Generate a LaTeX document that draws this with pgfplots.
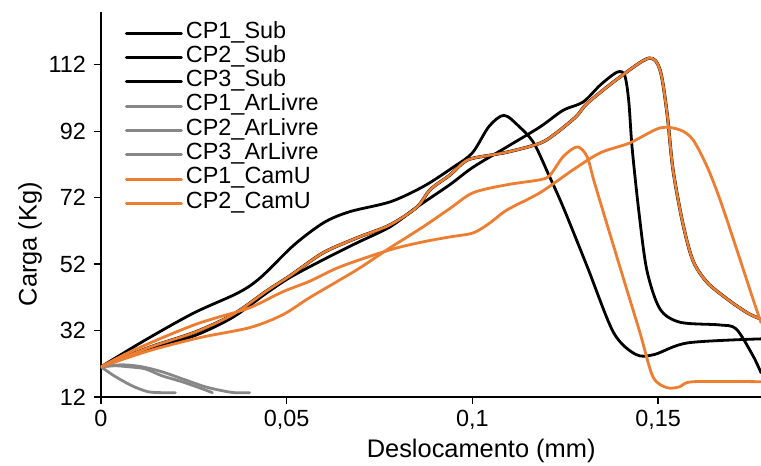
\documentclass[border=0pt]{standalone}
\usepackage{pgfplots}
\pgfplotsset{compat=1.18}
\usepackage{fontspec}
\setmainfont{Liberation Sans}
\definecolor{camU}{HTML}{ED7D31}
\definecolor{arLivre}{HTML}{878787}

\pgfplotsset{
  curve/.style={smooth, line width=2.8bp, line cap=round, line join=round},
}

\begin{document}
\begin{tikzpicture}
\begin{axis}[
  name=ax,
  scale only axis,
  width=660bp, height=385bp,
  xmin=0, xmax=0.1777,
  ymin=12, ymax=127.9,
  axis x line*=bottom, axis y line*=left,
  axis line style={line width=1.3bp, black},
  xtick={0,0.05,0.1,0.15},
  xticklabels={0,{0,05},{0,1},{0,15}},
  ytick={12,32,52,72,92,112},
  tick align=outside,
  major tick length=7bp,
  tick style={line width=1.3bp, black},
  tick label style={font=\fontsize{23.5}{26}\selectfont},
  xticklabel style={yshift=-3bp},
  yticklabel style={xshift=-4.5bp},
  /pgf/number format/assume math mode=true,
  xlabel={Deslocamento (mm)},
  ylabel={Carga (Kg)},
  label style={font=\fontsize{25.5}{28}\selectfont},
  x label style={at={(rel axis cs:0.576,-0.140)}, anchor=center},
  y label style={at={(rel axis cs:-0.1076,0.397)}, anchor=center, rotate=0},
  legend style={at={(rel axis cs:0.036,0.977)}, anchor=north west,
    draw=none, fill=none, font=\fontsize{23.5}{26}\selectfont,
    row sep=0bp, column sep=3bp, inner sep=0pt,
    nodes={inner sep=0pt, text height=17bp, text depth=7.3bp}},
  legend cell align=left,
  legend image code/.code={\draw[#1, line width=3bp, smooth=false] (0bp,0bp) -- (55bp,0bp);},
  clip=true,
]
% substrate specimens
\addplot[curve, black] coordinates {
(0,21.1) (0.012,29.2) (0.025,37.3) (0.037,43.4) (0.043,48.0) (0.052,57.8)
(0.060,64.5) (0.067,67.8) (0.078,70.8) (0.087,75.5) (0.095,81.3) (0.100,85.5)
(0.1045,93.5) (0.1085,96.8) (0.1125,93.5) (0.1165,88.5) (0.1205,79) (0.1245,69)
(0.1310,51) (0.1380,31.4) (0.1440,24.8) (0.1490,24.8) (0.1580,28.3) (0.1777,29.5)
};
\addlegendentry{CP1\_Sub}
\addplot[curve, black] coordinates {
(0,21.1) (0.0132,26.5) (0.0253,30.5) (0.0355,36) (0.0447,43.4) (0.0509,48)
(0.0598,53.3) (0.0689,58.4) (0.0778,63.2) (0.0851,69.2) (0.0939,75.9) (0.1002,81.2)
(0.1093,87.3) (0.1182,93.3) (0.1244,98.3) (0.1298,100.8) (0.1345,106) (0.1390,109.8)
(0.1410,108.8) (0.1421,101) (0.1430,87) (0.1449,67) (0.1470,50) (0.1505,38.5)
(0.1559,34.5) (0.1665,33.7) (0.1710,32.5) (0.1755,24.5) (0.1777,19.3)
};
\addlegendentry{CP2\_Sub}
\addplot[curve, black, line width=3.2bp] coordinates {
(0,21.1) (0.0132,27.0) (0.0253,31.5) (0.0355,36.8) (0.0447,44.0) (0.0509,48.5)
(0.0598,55.4) (0.0689,59.9) (0.0778,63.8) (0.0851,69.2) (0.0886,74.4) (0.0939,78.8)
(0.0975,82.5) (0.1002,83.9) (0.1093,85.7) (0.1182,88.4) (0.1225,91.4) (0.1280,96.5)
(0.1310,100.5) (0.1397,108.3) (0.1475,114.0) (0.1505,110.5) (0.1524,97.5) (0.1540,80.5)
(0.1567,64.0) (0.1594,53.0) (0.1632,46.5) (0.1686,41.5) (0.1739,37.4) (0.1777,35.4)
};
\addlegendentry{CP3\_Sub}
% free-air specimens
\addplot[curve, arLivre] coordinates {
(0,21.1) (0.0035,18.4) (0.0083,15.4) (0.0126,13.6) (0.0164,13.3) (0.020,13.3)
};
\addlegendentry{CP1\_ArLivre}
\addplot[curve, arLivre] coordinates {
(0,21.1) (0.0038,21.4) (0.0073,21.1) (0.0118,20.5) (0.0164,18.4) (0.0218,16.6)
(0.0272,14.5) (0.030,13.3)
};
\addlegendentry{CP2\_ArLivre}
\addplot[curve, arLivre] coordinates {
(0,21.1) (0.0057,21.7) (0.011,21.1) (0.0164,19.6) (0.0218,17.5) (0.028,15.1)
(0.0326,13.9) (0.036,13.3) (0.040,13.3)
};
\addlegendentry{CP3\_ArLivre}
% U-chamber specimens
\addplot[curve, camU, line width=2.6bp] coordinates {
(0,21.1) (0.0132,27.0) (0.0253,31.5) (0.0355,36.8) (0.0447,44.0) (0.0509,48.5)
(0.0598,55.4) (0.0689,59.9) (0.0778,63.8) (0.0851,69.2) (0.0886,74.4) (0.0939,78.8)
(0.0975,82.5) (0.1002,83.9) (0.1093,85.7) (0.1182,88.4) (0.1225,91.4) (0.1280,96.5)
(0.1310,100.5) (0.1397,108.3) (0.1475,114.0) (0.1505,110.5) (0.1524,97.5) (0.1540,80.5)
(0.1567,64.0) (0.1594,53.0) (0.1632,46.5) (0.1686,41.5) (0.1739,37.4) (0.1777,35.4)
};
\addlegendentry{CP1\_CamU}
\addplot[curve, camU] coordinates {
(0,21.1) (0.0073,25.3) (0.0164,29.8) (0.0253,33.8) (0.0312,35.9) (0.0401,38.9)
(0.0490,43.7) (0.0563,46.9) (0.0644,51.2) (0.0778,56.3) (0.0867,58.7) (0.0940,60.2)
(0.1002,61.4) (0.1047,64.4) (0.1093,68.3) (0.1182,73.5) (0.1271,80.4) (0.1344,85.5)
(0.1424,88.5) (0.1505,93.0) (0.1559,92.4) (0.1594,89.4) (0.1632,81.3) (0.1667,71.3)
(0.1712,56.3) (0.1756,41.3) (0.1777,34.4)
};
\addlegendentry{CP2\_CamU}
\addplot[curve, camU, forget plot] coordinates {
(0,21.1) (0.0132,26.0) (0.0267,29.9) (0.0401,32.9) (0.0490,36.8) (0.0563,42.0)
(0.0689,50.3) (0.0778,56.9) (0.0867,63.2) (0.0940,68.8) (0.1002,73.5) (0.1093,75.9)
(0.1182,77.4) (0.1209,78.8) (0.1244,84.3) (0.1282,87.3) (0.1309,84.3) (0.1330,76)
(0.1397,51.2) (0.1451,31.4) (0.1486,18.1) (0.1524,14.8) (0.1559,15.1) (0.1594,16.6)
(0.1777,16.6)
};
\end{axis}
\pgfresetboundingbox
\path[use as bounding box] (ax.south west) ++(-101bp,-69bp) rectangle ++(761bp,466bp);
\end{tikzpicture}
\end{document}
